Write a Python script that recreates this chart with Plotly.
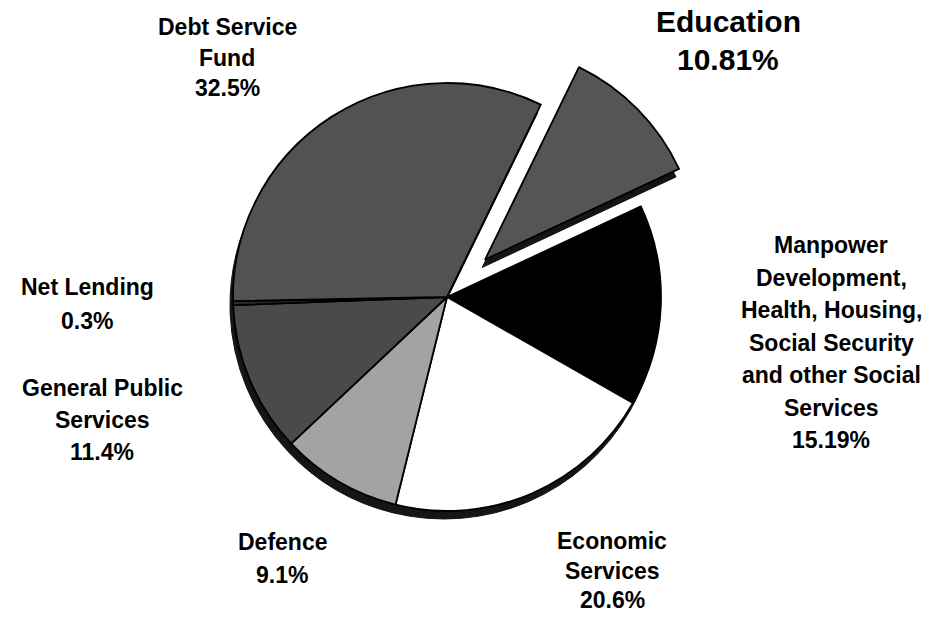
import plotly.graph_objects as go

# ---- data ----
categories = ["Education",
              "Manpower Development, Health, Housing, Social Security and other Social Services",
              "Economic Services", "Defence", "General Public Services",
              "Net Lending", "Debt Service Fund"]
values = [10.81, 15.19, 20.6, 9.1, 11.4, 0.3, 32.5]
value_labels = ["10.81%", "15.19%", "20.6%", "9.1%", "11.4%", "0.3%", "32.5%"]
label_lines = [
    ["Education"],
    ["Manpower", "Development,", "Health, Housing,", "Social Security", "and other Social", "Services"],
    ["Economic", "Services"],
    ["Defence"],
    ["General Public", "Services"],
    ["Net Lending"],
    ["Debt Service", "Fund"],
]
pulls = [0.25, 0, 0, 0, 0, 0, 0]

# ---- styling ----
slice_colors = ["#555555", "#000000", "#ffffff", "#a3a3a3", "#4a4a4a", "#2a2a2a", "#525252"]
W, H = 943, 617
cx, cy, r = 447, 297, 214
half = r * (1 + max(pulls))

def dom(cx_px, cy_px):
    return dict(x=[(cx_px - half) / W, (cx_px + half) / W],
                y=[1 - (cy_px + half) / H, 1 - (cy_px - half) / H])

fig = go.Figure()
# depth (3D edge) layer
fig.add_trace(go.Pie(
    labels=categories, values=values, sort=False, direction="clockwise", rotation=26,
    pull=pulls, textinfo="none", hoverinfo="skip", showlegend=False,
    marker=dict(colors=["#151515"] * len(values), line=dict(color="#151515", width=1)),
    domain=dom(cx - 3, cy + 8),
))
# main pie
fig.add_trace(go.Pie(
    labels=categories, values=values, sort=False, direction="clockwise", rotation=26,
    pull=pulls, textinfo="none", hoverinfo="skip", showlegend=False,
    marker=dict(colors=slice_colors, line=dict(color="#000000", width=1.8)),
    domain=dom(cx, cy),
))

# label layout: center x, first-line center y, line spacing, font size (pixels)
label_layout = [(728, 22, 38, 30), (831, 245, 32.5, 23), (612, 541, 29.5, 23),
                (282, 542, 33, 23), (102, 388, 32, 23), (87, 287, 34, 23), (227, 27, 30.5, 23)]
for lines, val, (x, y0, dy, s) in zip(label_lines, value_labels, label_layout):
    for i, line in enumerate(lines + [val]):
        fig.add_annotation(
            x=x / W, y=1 - (y0 + i * dy) / H, xref="paper", yref="paper",
            xanchor="center", yanchor="middle", text=line, showarrow=False, borderpad=0,
            font=dict(family="Liberation Sans, Arial, sans-serif", size=s,
                      color="#000000", weight="bold"),
        )

fig.update_layout(
    width=W, height=H, margin=dict(l=0, r=0, t=0, b=0),
    paper_bgcolor="#ffffff", plot_bgcolor="#ffffff", showlegend=False,
)
fig.write_html("out.html")
